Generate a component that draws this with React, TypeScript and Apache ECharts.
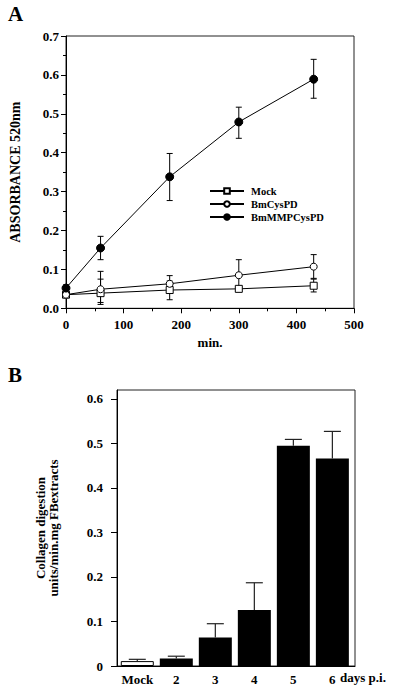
import React, { useEffect, useRef } from "react";
import * as echarts from "echarts";

// ---- Panel A data ----
const timeMin = [0, 60, 180, 300, 430];
const mockAbs = [0.035, 0.039, 0.047, 0.05, 0.058];
const mockLow = [0.03, 0.01, 0.022, 0.045, 0.042];
const mockHigh = [0.04, 0.075, 0.07, 0.055, 0.075];
const cysAbs = [0.035, 0.049, 0.063, 0.085, 0.107];
const cysLow = [0.03, 0.015, 0.045, 0.045, 0.077];
const cysHigh = [0.04, 0.095, 0.084, 0.125, 0.138];
const mmpAbs = [0.052, 0.155, 0.338, 0.479, 0.589];
const mmpLow = [0.045, 0.125, 0.277, 0.437, 0.54];
const mmpHigh = [0.06, 0.185, 0.398, 0.517, 0.64];
const seriesNames = ["Mock", "BmCysPD", "BmMMPCysPD"];

// ---- Panel B data ----
const dayCats = ["Mock", "2", "3", "4", "5", "6"];
const digestion = [0.011, 0.017, 0.064, 0.126, 0.495, 0.466];
const digestionErr = [0.015, 0.022, 0.095, 0.187, 0.509, 0.527];
const bTicks = [0, 0.1, 0.2, 0.3, 0.4, 0.5, 0.6];
const catPositions = [0, 1, 2, 3, 4, 5];

const FONT = "'Liberation Serif', 'DejaVu Serif', serif";

export default function App() {
  const ref = useRef<HTMLDivElement>(null);
  useEffect(() => {
    if (!ref.current) return;
    const chart = echarts.init(ref.current, null, { renderer: "svg" });
    const lbl = { fontFamily: FONT, fontWeight: "bold" as const, fontSize: 13, color: "#000" };
    const axisLine = { show: true, onZero: false, lineStyle: { color: "#000", width: 1 } };

    const errA = (x: number[], lo: number[], hi: number[]) =>
      x.map((v, i) => [v, lo[i], hi[i]]);

    const errRenderA = (params: any, api: any) => {
      const x = api.value(0);
      const pLo = api.coord([x, api.value(1)]);
      const pHi = api.coord([x, api.value(2)]);
      const w = 3;
      const st = { stroke: "#000", lineWidth: 1 };
      return {
        type: "group",
        children: [
          { type: "line", shape: { x1: pLo[0], y1: pLo[1], x2: pHi[0], y2: pHi[1] }, style: st },
          { type: "line", shape: { x1: pLo[0] - w, y1: pLo[1], x2: pLo[0] + w, y2: pLo[1] }, style: st },
          { type: "line", shape: { x1: pHi[0] - w, y1: pHi[1], x2: pHi[0] + w, y2: pHi[1] }, style: st },
        ],
      };
    };

    const errRenderB = (params: any, api: any) => {
      const idx = api.value(0);
      const pLo = api.coord([idx, api.value(1)]);
      const pHi = api.coord([idx, api.value(2)]);
      const w = 8.5;
      const st = { stroke: "#222", lineWidth: 1.2 };
      return {
        type: "group",
        children: [
          { type: "line", shape: { x1: pLo[0], y1: pLo[1], x2: pHi[0], y2: pHi[1] }, style: st },
          { type: "line", shape: { x1: pHi[0] - w, y1: pHi[1], x2: pHi[0] + w, y2: pHi[1] }, style: st },
        ],
      };
    };

    const lineSeries = (name: string, ys: number[], symbol: string, size: number, filled: boolean) => ({
      name,
      type: "line",
      xAxisIndex: 0,
      yAxisIndex: 0,
      data: timeMin.map((t, i) => [t, ys[i]]),
      symbol,
      symbolSize: size,
      showAllSymbol: true,
      lineStyle: { color: "#000", width: 1 },
      itemStyle: { color: filled ? "#000" : "#fff", borderColor: "#000", borderWidth: 1 },
      z: 3,
    });

    chart.setOption({
      animation: false,
      backgroundColor: "#fff",
      grid: [
        { left: 64, top: 36, width: 290, height: 272.3, show: true, borderColor: "#222", borderWidth: 1 },
        { left: 117, top: 390, width: 238, height: 276, show: true, borderColor: "#222", borderWidth: 1 },
      ],
      legend: {
        data: seriesNames,
        orient: "vertical",
        left: 204,
        top: 180,
        itemWidth: 34,
        itemHeight: 7,
        itemGap: 1,
        textStyle: {
          fontFamily: FONT,
          fontWeight: "bold",
          fontSize: 10.5,
          lineHeight: 12,
          color: "#000",
          padding: [0, 0, 0, 2],
        },
      },
      xAxis: [
        {
          type: "value",
          gridIndex: 0,
          min: 0,
          max: 500,
          interval: 100,
          name: "min.",
          nameLocation: "middle",
          nameGap: 28,
          nameTextStyle: lbl,
          axisLine,
          axisTick: { show: true, length: 5, lineStyle: { color: "#000" } },
          minorTick: { show: true, splitNumber: 2, length: 3, lineStyle: { color: "#000" } },
          axisLabel: { ...lbl, margin: 10 },
          splitLine: { show: false },
        },
        {
          type: "value",
          gridIndex: 1,
          min: -0.52,
          max: 5.58,
          axisLine,
          axisTick: { show: false },
          axisLabel: {
            ...lbl,
            margin: 7,
            customValues: catPositions,
            formatter: (v: number) => dayCats[Math.round(v)] ?? "",
          },
          splitLine: { show: false },
        },
      ],
      yAxis: [
        {
          type: "value",
          gridIndex: 0,
          min: 0,
          max: 0.7,
          interval: 0.1,
          name: "ABSORBANCE 520nm",
          nameLocation: "middle",
          nameGap: 44,
          nameTextStyle: { ...lbl, fontSize: 14 },
          axisLine,
          axisTick: { show: true, length: 5, lineStyle: { color: "#000" } },
          minorTick: { show: true, splitNumber: 2, length: 3, lineStyle: { color: "#000" } },
          axisLabel: { ...lbl, margin: 7, formatter: (v: number) => v.toFixed(1) },
          splitLine: { show: false },
        },
        {
          type: "value",
          gridIndex: 1,
          min: 0,
          max: 0.62,
          interval: 0.1,
          name: "Collagen digestion\nunits/min.mg FBextracts",
          nameLocation: "middle",
          nameGap: 57,
          nameTextStyle: { ...lbl, fontSize: 13, lineHeight: 13 },
          axisLine,
          axisTick: { show: true, length: 6, customValues: bTicks, lineStyle: { color: "#000" } },
          axisLabel: {
            ...lbl,
            margin: 14,
            customValues: bTicks,
            formatter: (v: number) => (v === 0 ? "0" : v.toFixed(1)),
          },
          splitLine: { show: false },
        },
      ],
      graphic: [
        { type: "text", left: 8, top: 3, style: { text: "A", font: `bold 21px ${FONT}`, fill: "#000" } },
        { type: "text", left: 8, top: 364, style: { text: "B", font: `bold 21px ${FONT}`, fill: "#000" } },
        { type: "text", left: 340, top: 671, style: { text: "days p.i.", font: `bold 13px ${FONT}`, fill: "#000" } },
      ],
      series: [
        {
          name: "errMock",
          type: "custom",
          xAxisIndex: 0,
          yAxisIndex: 0,
          renderItem: errRenderA,
          encode: { x: 0, y: [1, 2] },
          data: errA(timeMin, mockLow, mockHigh),
          z: 2,
        },
        {
          name: "errCys",
          type: "custom",
          xAxisIndex: 0,
          yAxisIndex: 0,
          renderItem: errRenderA,
          encode: { x: 0, y: [1, 2] },
          data: errA(timeMin, cysLow, cysHigh),
          z: 2,
        },
        {
          name: "errMMP",
          type: "custom",
          xAxisIndex: 0,
          yAxisIndex: 0,
          renderItem: errRenderA,
          encode: { x: 0, y: [1, 2] },
          data: errA(timeMin, mmpLow, mmpHigh),
          z: 2,
        },
        lineSeries("Mock", mockAbs, "rect", 7, false),
        lineSeries("BmCysPD", cysAbs, "circle", 7, false),
        lineSeries("BmMMPCysPD", mmpAbs, "circle", 8, true),
        {
          name: "digestion",
          type: "bar",
          xAxisIndex: 1,
          yAxisIndex: 1,
          barWidth: 33,
          data: digestion.map((v, i) =>
            i === 0
              ? { value: [catPositions[i], v], itemStyle: { color: "#fff", borderColor: "#000", borderWidth: 1 } }
              : { value: [catPositions[i], v], itemStyle: { color: "#000" } }
          ),
          z: 2,
        },
        {
          name: "errB",
          type: "custom",
          xAxisIndex: 1,
          yAxisIndex: 1,
          renderItem: errRenderB,
          encode: { x: 0, y: [1, 2] },
          data: digestion.map((v, i) => [catPositions[i], v, digestionErr[i]]),
          z: 3,
        },
      ],
    });
    return () => chart.dispose();
  }, []);

  return (
    <div
      ref={ref}
      style={{ position: "absolute", left: 0, top: 0, width: 405, height: 693, background: "#fff" }}
    />
  );
}
